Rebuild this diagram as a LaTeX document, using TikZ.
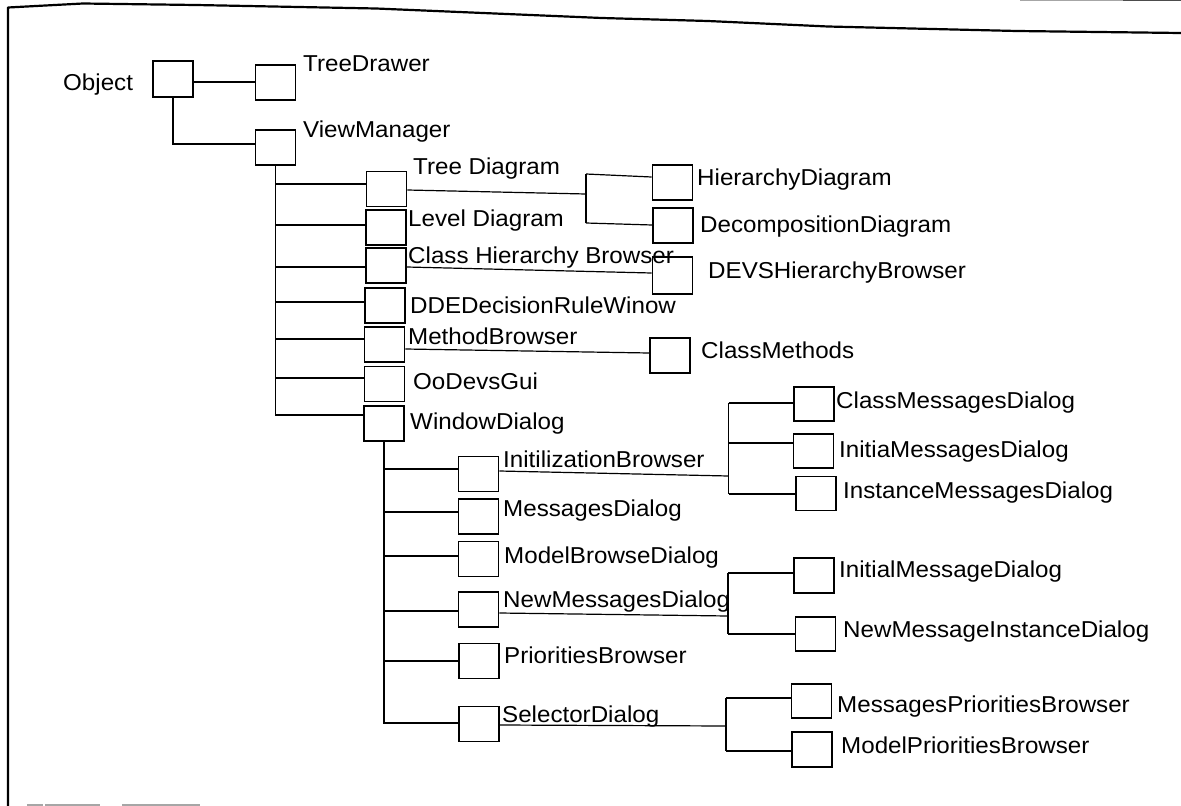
\documentclass[tikz,border=0pt]{standalone}
\usepackage{fontspec}
\setmainfont{Liberation Sans}[FakeStretch=1.05]
\begin{document}
\begin{tikzpicture}[x=1pt,y=-1pt,
  box/.style={draw,line width=1.6pt,minimum width=40pt,minimum height=35pt,inner sep=0pt},
  lbl/.style={anchor=base west,inner sep=0pt,font=\fontsize{23}{27}\selectfont},
  conn/.style={line width=1.2pt},
  framestyle/.style={line width=2.2pt,line join=round},
  faint/.style={line width=1.2pt,black!35}]
\useasboundingbox (0,0) rectangle (1181,806);
% frame
\draw[framestyle] (8,806) -- (8,7.5) -- (83,3.5) -- (196,5) -- (376,8.5) -- (602,18) -- (708,21) -- (828,26.5) -- (1017,31) -- (1181,33);
\draw[faint] (1020,0.8) -- (1123,0.8);
\draw[line width=1.2pt,black!70] (1123,0.8) -- (1181,0.8);
\draw[faint] (27,805) -- (43,805) (45,805) -- (100,805) (122,805) -- (200,805);

% boxes
\node[box,minimum height=36pt] (obj) at (173,79) {};
\node[box] (td) at (275.5,82.5) {};
\node[box] (vm) at (275.5,147.5) {};
\node[box] (treed) at (386.5,189) {};
\node[box] (leveld) at (386,227.5) {};
\node[box] (chb) at (386,265.5) {};
\node[box] (dde) at (385,305.5) {};
\node[box] (mb) at (384.5,344.5) {};
\node[box] (oo) at (384.5,384) {};
\node[box] (wd) at (384,423.5) {};
\node[box] (hd) at (672.5,182.5) {};
\node[box] (dd) at (673,225.5) {};
\node[box,minimum height=37pt] (devs) at (672.5,275.5) {};
\node[box] (cm) at (670,355.5) {};
\node[box,minimum height=34pt] (cmd) at (814,404) {};
\node[box,minimum height=34pt] (imd) at (813.5,451) {};
\node[box,minimum height=34pt] (instmd) at (816,493.5) {};
\node[box] (initb) at (478.5,474) {};
\node[box] (msgd) at (478.5,516.5) {};
\node[box] (modelbd) at (478.5,559) {};
\node[box] (newmd) at (478.5,609.5) {};
\node[box] (prib) at (479,661) {};
\node[box] (seld) at (479,724) {};
\node[box] (initialmd) at (814,575.5) {};
\node[box,minimum height=34pt] (newmid) at (815.5,634) {};
\node[box,minimum height=34pt] (mpb) at (811.5,701) {};
\node[box] (modelpb) at (812,749.5) {};

% labels
\node[lbl] (objL) at (63,90) {Object};
\node[lbl] (tdL) at (303,71) {TreeDrawer};
\node[lbl] (vmL) at (303,137) {ViewManager};
\node[lbl] (treedL) at (413,174) {Tree Diagram};
\node[lbl] (leveldL) at (408,226) {Level Diagram};
\node[lbl] (chbL) at (408,263) {Class Hierarchy Browser};
\node[lbl] (ddeL) at (410,313) {DDEDecisionRuleWinow};
\node[lbl] (mbL) at (408,344) {MethodBrowser};
\node[lbl] (ooL) at (413,389) {OoDevsGui};
\node[lbl] (wdL) at (410,429) {WindowDialog};
\node[lbl] (hdL) at (697,185) {HierarchyDiagram};
\node[lbl] (ddL) at (700,232) {DecompositionDiagram};
\node[lbl] (devsL) at (708,278) {DEVSHierarchyBrowser};
\node[lbl] (cmL) at (701,358) {ClassMethods};
\node[lbl] (cmdL) at (836,408) {ClassMessagesDialog};
\node[lbl] (imdL) at (839,457) {InitiaMessagesDialog};
\node[lbl] (instmdL) at (843,498) {InstanceMessagesDialog};
\node[lbl] (initbL) at (503,467) {InitilizationBrowser};
\node[lbl] (msgdL) at (503,516) {MessagesDialog};
\node[lbl] (modelbdL) at (504,563) {ModelBrowseDialog};
\node[lbl] (newmdL) at (503,607) {NewMessagesDialog};
\node[lbl] (pribL) at (504,663) {PrioritiesBrowser};
\node[lbl] (seldL) at (502,722) {SelectorDialog};
\node[lbl] (initialmdL) at (839,577) {InitialMessageDialog};
\node[lbl] (newmidL) at (843,637) {NewMessageInstanceDialog};
\node[lbl] (mpbL) at (837,712) {MessagesPrioritiesBrowser};
\node[lbl] (modelpbL) at (841,753) {ModelPrioritiesBrowser};

% split points
\coordinate (s1) at (586,194);
\coordinate (s1t) at (586,174);
\coordinate (s1b) at (586,223);
\coordinate (s2) at (728.5,476);
\coordinate (s2t) at (728.5,403);
\coordinate (s2m) at (728.5,443);
\coordinate (s2b) at (728.5,494);
\coordinate (s3) at (728,616);
\coordinate (s3t) at (728,573);
\coordinate (s3b) at (728,634);
\coordinate (s4) at (726,726);
\coordinate (s4t) at (726,698);
\coordinate (s4b) at (726,751);

% connectors
\draw[conn] (obj.east |- 0,82) -- (td.west |- 0,82);
\draw[conn] (obj.south) -- (obj.south |- 0,144) -- (vm.west |- 0,144);
\draw[conn] (vm.south) -- (vm.south |- 0,415) -- (wd.west |- 0,415);
\draw[conn] (vm.south |- 0,184) -- (treed.west |- 0,184);
\draw[conn] (vm.south |- 0,225) -- (leveld.west |- 0,225);
\draw[conn] (vm.south |- 0,267) -- (chb.west |- 0,267);
\draw[conn] (vm.south |- 0,302) -- (dde.west |- 0,302);
\draw[conn] (vm.south |- 0,339) -- (mb.west |- 0,339);
\draw[conn] (vm.south |- 0,378) -- (oo.west |- 0,378);

\draw[conn] (treed.east |- 0,190) -- (s1);
\draw[conn] (s1t) -- (s1b);
\draw[conn] (s1t) -- (hd.west |- 0,177);
\draw[conn] (s1b) -- (dd.west |- 0,225);
\draw[conn] (chb.east |- 0,267) -- (devs.west |- 0,273);
\draw[conn] (mb.east |- 0,349) -- (cm.west |- 0,353);

\draw[conn] (wd.south) -- (wd.south |- 0,723) -- (seld.west |- 0,723);
\draw[conn] (wd.south |- 0,469) -- (initb.west |- 0,469);
\draw[conn] (wd.south |- 0,512) -- (msgd.west |- 0,512);
\draw[conn] (wd.south |- 0,556) -- (modelbd.west |- 0,556);
\draw[conn] (wd.south |- 0,611) -- (newmd.west |- 0,611);
\draw[conn] (wd.south |- 0,661) -- (prib.west |- 0,661);

\draw[conn] (initb.east |- 0,471) -- (s2);
\draw[conn] (s2t) -- (s2b);
\draw[conn] (s2t) -- (cmd.west |- 0,403);
\draw[conn] (s2m) -- (imd.west |- 0,443);
\draw[conn] (s2b) -- (instmd.west |- 0,494);

\draw[conn] (newmd.east |- 0,613) -- (s3);
\draw[conn] (s3t) -- (s3b);
\draw[conn] (s3t) -- (initialmd.west |- 0,573);
\draw[conn] (s3b) -- (newmid.west |- 0,634);

\draw[conn] (seld.east |- 0,725) -- (s4);
\draw[conn] (s4t) -- (s4b);
\draw[conn] (s4t) -- (mpb.west |- 0,698);
\draw[conn] (s4b) -- (modelpb.west |- 0,751);
\end{tikzpicture}
\end{document}
